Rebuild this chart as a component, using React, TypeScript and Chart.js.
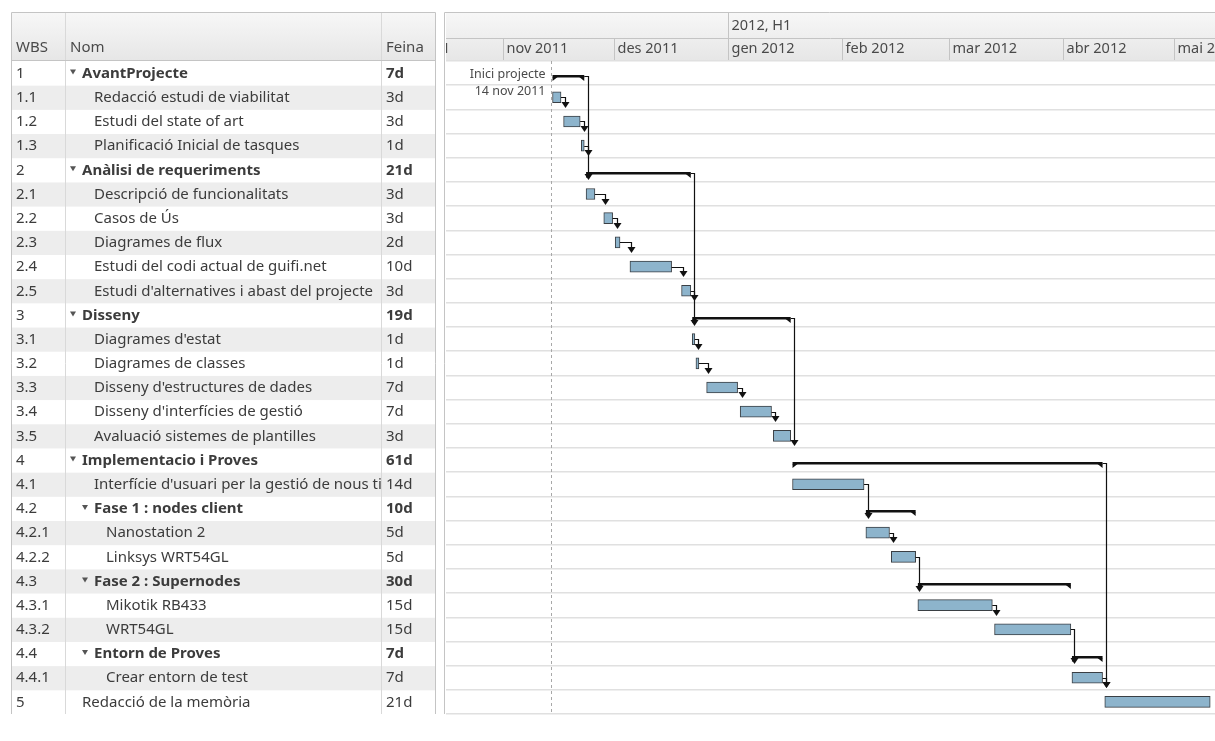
import React, { useEffect, useRef } from 'react';
import { Chart, registerables } from 'chart.js';

Chart.register(...registerables);

const FONT = '"Noto Sans", "DejaVu Sans", sans-serif';

// ---- data (days counted from 1 nov 2011) ----
const wbs = ['1', '1.1', '1.2', '1.3', '2', '2.1', '2.2', '2.3', '2.4', '2.5', '3', '3.1', '3.2', '3.3', '3.4', '3.5', '4', '4.1', '4.2', '4.2.1', '4.2.2', '4.3', '4.3.1', '4.3.2', '4.4', '4.4.1', '5'];
const names = [
  'AvantProjecte', 'Redacció estudi de viabilitat', 'Estudi del state of art', 'Planificació Inicial de tasques',
  'Anàlisi de requeriments', 'Descripció de funcionalitats', 'Casos de Ús', 'Diagrames de flux', 'Estudi del codi actual de guifi.net', "Estudi d'alternatives i abast del projecte",
  'Disseny', "Diagrames d'estat", 'Diagrames de classes', "Disseny d'estructures de dades", "Disseny d'interfícies de gestió", 'Avaluació sistemes de plantilles',
  'Implementacio i Proves', "Interfície d'usuari per la gestió de nous ti", 'Fase 1 : nodes client', 'Nanostation 2', 'Linksys WRT54GL',
  'Fase 2 : Supernodes', 'Mikotik RB433', 'WRT54GL', 'Entorn de Proves', 'Crear entorn de test', 'Redacció de la memòria',
];
const work = ['7d', '3d', '3d', '1d', '21d', '3d', '3d', '2d', '10d', '3d', '19d', '1d', '1d', '7d', '7d', '3d', '61d', '14d', '10d', '5d', '5d', '30d', '15d', '15d', '7d', '7d', '21d'];
const starts = [13.4, 13.4, 16.4, 21.2, 22.5, 22.5, 27.3, 30.4, 34.4, 48.4, 51.3, 51.3, 52.3, 55.2, 64.3, 73.3, 78.5, 78.5, 98.4, 98.4, 105.3, 112.5, 112.5, 133.3, 154.3, 154.3, 163.2];
const ends = [22.0, 15.7, 20.9, 22.0, 50.9, 24.9, 29.7, 31.7, 45.7, 50.9, 78.0, 52.0, 53.1, 63.6, 72.8, 78.0, 162.6, 97.9, 111.9, 104.8, 111.9, 154.0, 132.7, 154.0, 162.6, 162.6, 191.8];
const deps: [string, string][] = [
  ['1.1', '1.2'], ['1.2', '1.3'], ['1', '2'], ['1.3', '2.1'],
  ['2.1', '2.2'], ['2.2', '2.3'], ['2.3', '2.4'], ['2.4', '2.5'], ['2', '3'], ['2.5', '3.1'],
  ['3.1', '3.2'], ['3.2', '3.3'], ['3.3', '3.4'], ['3.4', '3.5'], ['3', '4'],
  ['4.1', '4.2.1'], ['4.2.1', '4.2.2'], ['4.2.2', '4.3.1'], ['4.3.1', '4.3.2'], ['4.3.2', '4.4.1'], ['4.4.1', '5'], ['4', '5'],
];
const projectStart = 13;
const startLabel = ['Inici projecte', '14 nov 2011'];
const months = ['oct 2011', 'nov 2011', 'des 2011', 'gen 2012', 'feb 2012', 'mar 2012', 'abr 2012', 'mai 2012'];
const monthStarts = [-31, 0, 30, 61, 92, 121, 152, 182];
const halves = ['2011, H2', '2012, H1'];
const halfStarts = [-123, 61];
const columns = ['WBS', 'Nom', 'Feina'];

const depth = wbs.map((w) => w.split('.').length - 1);
const isSummary = wbs.map((w) => wbs.some((o) => o.startsWith(w + '.')));

const TABLE_L = 12;
const TABLE_R = 435;
const COL_NOM = 65;
const COL_FEINA = 381;
const HEAD_T = 13;
const HEAD_MID = 38;

const ganttPlugin = {
  id: 'gantt',
  beforeDraw(chart: any) {
    const { ctx, chartArea: a, scales } = chart;
    const y = scales.y;
    const x = scales.x;
    const rh = (a.bottom - a.top) / wbs.length;
    ctx.save();

    // header backgrounds
    const g = ctx.createLinearGradient(0, HEAD_T, 0, a.top);
    g.addColorStop(0, '#f7f7f7');
    g.addColorStop(1, '#e6e6e6');
    ctx.fillStyle = g;
    ctx.fillRect(TABLE_L, HEAD_T, TABLE_R - TABLE_L, a.top - HEAD_T);
    ctx.fillRect(a.left, HEAD_T, a.right - a.left, a.top - HEAD_T);

    // table rows
    wbs.forEach((w, i) => {
      const cy = y.getPixelForValue(i) + 0.5;
      if (i % 2) {
        ctx.fillStyle = '#ededed';
        ctx.fillRect(TABLE_L, cy - rh / 2, TABLE_R - TABLE_L, rh);
      }
      const bold = isSummary[i];
      ctx.fillStyle = '#3c3c3c';
      ctx.textBaseline = 'middle';
      ctx.textAlign = 'left';
      ctx.font = `15px ${FONT}`;
      ctx.fillText(w, 16, cy);
      ctx.font = `${bold ? 'bold ' : ''}15px ${FONT}`;
      const tx = 82 + depth[i] * 12;
      ctx.save();
      ctx.beginPath();
      ctx.rect(COL_NOM, cy - rh / 2, COL_FEINA - COL_NOM, rh);
      ctx.clip();
      ctx.fillText(names[i], tx, cy);
      ctx.restore();
      if (bold) {
        ctx.fillStyle = '#555';
        ctx.beginPath();
        ctx.moveTo(tx - 12, cy - 4);
        ctx.lineTo(tx - 6, cy - 4);
        ctx.lineTo(tx - 9, cy + 1);
        ctx.closePath();
        ctx.fill();
        ctx.fillStyle = '#3c3c3c';
      }
      ctx.fillText(work[i], 386, cy);
    });

    // table lines
    ctx.strokeStyle = '#d9d9d9';
    ctx.lineWidth = 1;
    ctx.beginPath();
    [COL_NOM, COL_FEINA].forEach((c) => {
      ctx.moveTo(c + 0.5, HEAD_T);
      ctx.lineTo(c + 0.5, a.bottom);
    });
    ctx.stroke();
    ctx.strokeStyle = '#c4c4c4';
    ctx.beginPath();
    ctx.moveTo(TABLE_L - 0.5, HEAD_T - 0.5);
    ctx.lineTo(TABLE_R + 0.5, HEAD_T - 0.5);
    ctx.moveTo(a.left - 1.5, HEAD_T - 0.5);
    ctx.lineTo(a.right, HEAD_T - 0.5);
    ctx.moveTo(TABLE_L - 0.5, HEAD_T - 0.5);
    ctx.lineTo(TABLE_L - 0.5, a.bottom);
    ctx.moveTo(TABLE_R + 0.5, HEAD_T - 0.5);
    ctx.lineTo(TABLE_R + 0.5, a.bottom);
    ctx.moveTo(a.left - 1.5, HEAD_T - 0.5);
    ctx.lineTo(a.left - 1.5, a.bottom);
    ctx.moveTo(TABLE_L, a.top - 0.5);
    ctx.lineTo(TABLE_R, a.top - 0.5);
    ctx.moveTo(a.left, a.top - 0.5);
    ctx.lineTo(a.right, a.top - 0.5);
    ctx.moveTo(a.left, HEAD_MID + 0.5);
    ctx.lineTo(a.right, HEAD_MID + 0.5);
    ctx.stroke();

    // column headers
    ctx.font = `15px ${FONT}`;
    ctx.fillStyle = '#4a4a4a';
    ctx.textBaseline = 'middle';
    ctx.fillText(columns[0], 16, 48);
    ctx.fillText(columns[1], 70, 48);
    ctx.fillText(columns[2], 386, 48);

    // timeline header
    ctx.font = `14.5px ${FONT}`;
    ctx.save();
    ctx.beginPath();
    ctx.rect(a.left, HEAD_T, a.right - a.left, a.top - HEAD_T);
    ctx.clip();
    ctx.strokeStyle = '#c4c4c4';
    ctx.beginPath();
    halfStarts.forEach((d, i) => {
      const px = Math.round(x.getPixelForValue(d)) + 0.5;
      ctx.moveTo(px, HEAD_T);
      ctx.lineTo(px, HEAD_MID);
      ctx.fillText(halves[i], px + 3, 26);
    });
    monthStarts.forEach((d, i) => {
      const px = Math.round(x.getPixelForValue(d)) + 0.5;
      ctx.moveTo(px, HEAD_MID);
      ctx.lineTo(px, a.top);
      ctx.fillText(months[i], px + 3, 49);
    });
    ctx.stroke();
    ctx.restore();
    ctx.restore();
  },
  beforeDatasetsDraw(chart: any) {
    const { ctx, chartArea: a, scales } = chart;
    const px = Math.round(scales.x.getPixelForValue(projectStart)) + 0.5;
    const cy = scales.y.getPixelForValue(0);
    ctx.save();
    ctx.strokeStyle = '#a8a8a8';
    ctx.setLineDash([3, 3]);
    ctx.beginPath();
    ctx.moveTo(px, a.top);
    ctx.lineTo(px, a.bottom);
    ctx.stroke();
    ctx.setLineDash([]);
    ctx.font = `12.5px ${FONT}`;
    ctx.fillStyle = '#4a4a4a';
    ctx.textAlign = 'right';
    ctx.textBaseline = 'middle';
    ctx.fillText(startLabel[0], px - 6, cy + 1);
    ctx.fillText(startLabel[1], px - 6, cy + 18);
    ctx.restore();
  },
  afterDatasetsDraw(chart: any) {
    const { ctx, chartArea: a, scales } = chart;
    const x = scales.x;
    const y = scales.y;
    const rh = (a.bottom - a.top) / wbs.length;
    ctx.save();
    ctx.beginPath();
    ctx.rect(a.left, a.top, a.right - a.left, a.bottom - a.top);
    ctx.clip();

    // summary brackets
    ctx.fillStyle = '#111';
    wbs.forEach((w, i) => {
      if (!isSummary[i]) return;
      const cy = y.getPixelForValue(i);
      const xs = x.getPixelForValue(starts[i]);
      const xe = x.getPixelForValue(ends[i]);
      const y0 = Math.round(cy + 2);
      ctx.fillRect(xs, y0, xe - xs, 2.5);
      ctx.beginPath();
      ctx.moveTo(xs, y0 + 2);
      ctx.lineTo(xs + 5, y0 + 2);
      ctx.lineTo(xs, y0 + 6);
      ctx.closePath();
      ctx.moveTo(xe, y0 + 2);
      ctx.lineTo(xe - 5, y0 + 2);
      ctx.lineTo(xe, y0 + 6);
      ctx.closePath();
      ctx.fill();
    });

    // dependencies
    ctx.strokeStyle = '#111';
    ctx.lineWidth = 1.2;
    deps.forEach(([f, t]) => {
      const i = wbs.indexOf(f);
      const j = wbs.indexOf(t);
      const xe = x.getPixelForValue(ends[i]);
      const xs = x.getPixelForValue(starts[j]);
      const fy = Math.round(y.getPixelForValue(i) + (isSummary[i] ? 3 : 0)) + 0.5;
      const ax = Math.round(Math.max(xe + 3.5, xs + 1.5)) + 0.5;
      const tip = Math.round(y.getPixelForValue(j) - rh / 2 - 1.5);
      ctx.beginPath();
      ctx.moveTo(xe, fy);
      ctx.lineTo(ax, fy);
      ctx.lineTo(ax, tip - 4);
      ctx.stroke();
      ctx.fillStyle = '#111';
      ctx.beginPath();
      ctx.moveTo(ax - 4, tip - 6);
      ctx.lineTo(ax + 4, tip - 6);
      ctx.lineTo(ax, tip);
      ctx.closePath();
      ctx.fill();
    });
    ctx.restore();
  },
};

export default function App() {
  const canvasRef = useRef<HTMLCanvasElement>(null);

  useEffect(() => {
    if (!canvasRef.current) return;
    const chart = new Chart(canvasRef.current, {
      type: 'bar',
      data: {
        labels: wbs,
        datasets: [
          {
            label: 'Tasques',
            data: wbs.map((w, i) => (isSummary[i] ? null : [starts[i], ends[i]])) as any,
            backgroundColor: '#8db4cc',
            borderColor: '#3a3f44',
            borderWidth: 1,
            borderSkipped: false,
            barThickness: 11,
            grouped: false,
          },
          {
            label: 'Resum',
            data: wbs.map((w, i) => (isSummary[i] ? [starts[i], ends[i]] : null)) as any,
            backgroundColor: 'rgba(0,0,0,0)',
            borderWidth: 0,
            barThickness: 1,
            grouped: false,
          },
        ],
      },
      options: {
        indexAxis: 'y',
        responsive: true,
        maintainAspectRatio: false,
        animation: false,
        events: [],
        layout: { padding: { left: 446, right: 0, top: 61, bottom: 27 } },
        plugins: { legend: { display: false }, tooltip: { enabled: false } },
        scales: {
          x: { type: 'linear', min: -15.5, max: 193.1, display: false },
          y: {
            type: 'category',
            ticks: { display: false },
            border: { display: false },
            grid: { color: '#e0e0e0', lineWidth: 1.5, offset: true, drawTicks: false },
            afterFit: (s: any) => { s.width = 0; },
          },
        },
      } as any,
      plugins: [ganttPlugin],
    });
    return () => chart.destroy();
  }, []);

  return (
    <div style={{ position: 'fixed', left: 0, top: 0, width: 1215, height: 741, background: '#fff' }}>
      <canvas ref={canvasRef} aria-label="Diagrama de Gantt del projecte" role="img" />
    </div>
  );
}
